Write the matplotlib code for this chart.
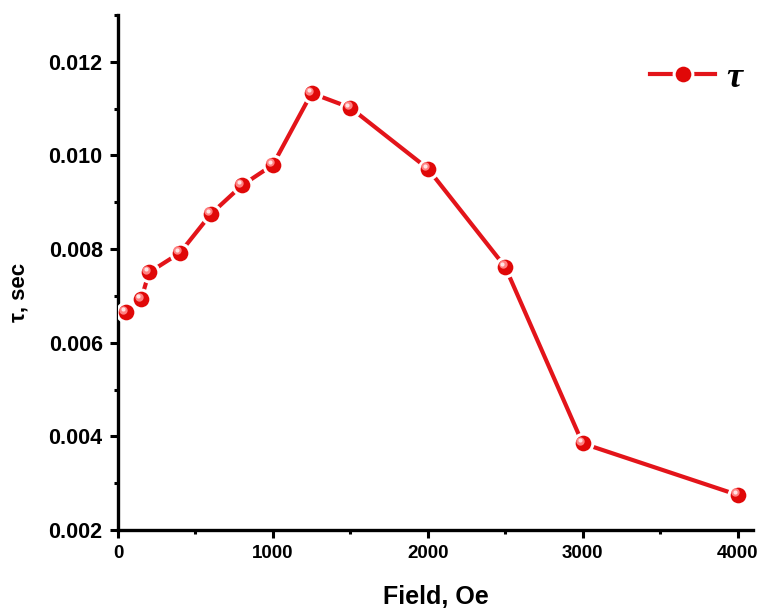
import matplotlib
matplotlib.use("Agg")
import matplotlib.pyplot as plt
from matplotlib import transforms
from matplotlib.ticker import MultipleLocator

# relaxation time vs applied field
field = [50, 150, 200, 400, 600, 800, 1000, 1250, 1500, 2000, 2500, 3000, 4000]
tau = [0.00665, 0.00693, 0.00750, 0.00792, 0.00875, 0.00936, 0.00980,
       0.01133, 0.01102, 0.00972, 0.00762, 0.00385, 0.00275]

x_ticks = [0, 1000, 2000, 3000, 4000]
y_ticks = [0.002, 0.004, 0.006, 0.008, 0.010, 0.012]

plt.rcParams['font.family'] = ['Liberation Sans', 'DejaVu Sans']
plt.rcParams['font.weight'] = 'bold'

fig = plt.figure(figsize=(7.63, 6.14), dpi=100)
ax = fig.add_axes([118 / 763, 84 / 614, 635 / 763, 515 / 614])

red = '#e3141a'
line, = ax.plot(field, tau, color=red, lw=3.0, marker='o', ms=13.5,
                mfc='#e00808', mec='white', mew=2.2, zorder=3)

# glossy highlight on each ball, shifted up-left
hl = transforms.offset_copy(ax.transData, fig=fig, x=-2.5, y=2.5, units='dots')
ax.plot(field, tau, ls='none', marker='o', ms=6, mfc='#ff8080', mec='none',
        transform=hl, zorder=4)
hl2 = transforms.offset_copy(ax.transData, fig=fig, x=-3, y=3, units='dots')
ax.plot(field, tau, ls='none', marker='o', ms=3, mfc='#ffe4e4', mec='none',
        transform=hl2, zorder=5)

ax.set_xlim(0, 4100)
ax.set_ylim(0.002, 0.013)
ax.set_xticks(x_ticks)
ax.set_yticks(y_ticks)
ax.set_yticklabels([f'{v:.3f}' for v in y_ticks])
ax.xaxis.set_minor_locator(MultipleLocator(500))
ax.yaxis.set_minor_locator(MultipleLocator(0.001))

for s in ['top', 'right']:
    ax.spines[s].set_visible(False)
for s in ['left', 'bottom']:
    ax.spines[s].set_linewidth(2.4)

ax.tick_params(which='major', direction='out', length=6, width=2.2, pad=5)
ax.tick_params(which='minor', direction='out', length=3, width=2.2)
ax.tick_params(axis='x', labelsize=13.5)
ax.tick_params(axis='y', labelsize=15.5)

ax.set_xlabel('Field, Oe', fontsize=18, fontweight='bold', labelpad=16)
fig.text(19 / 763, (614 - 292) / 614, 'τ, sec', rotation=90, ha='center',
         va='center', fontsize=16, fontweight='bold')

leg = ax.legend(handles=[line], labels=['τ'], frameon=False,
                loc='center left', bbox_to_anchor=(650 / 763, (614 - 78) / 614),
                bbox_transform=fig.transFigure, borderpad=0, borderaxespad=0,
                handlelength=1.8, handletextpad=0.3,
                prop={'family': 'Liberation Serif', 'style': 'italic',
                      'weight': 'bold', 'size': 26})

fig.savefig('out.png', dpi=100)
